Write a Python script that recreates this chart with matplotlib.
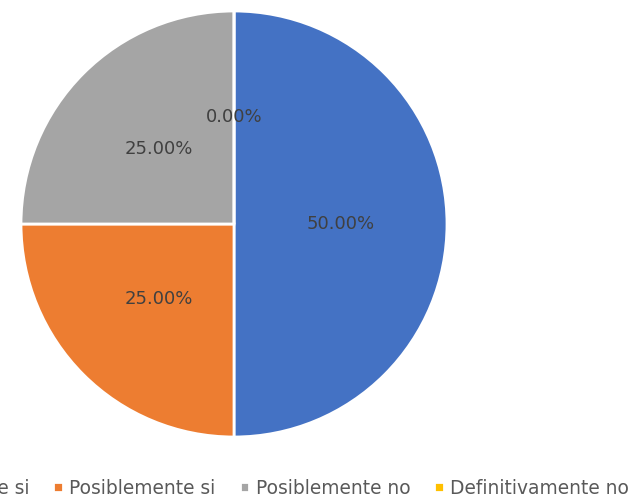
import matplotlib.pyplot as plt

# Respuestas (porcentaje)
labels = ['Definitivamente si', 'Posiblemente si', 'Posiblemente no', 'Definitivamente no']
values = [50.0, 25.0, 25.0, 0.0]
colors = ['#4472C4', '#ED7D31', '#A5A5A5', '#FFC000']

fig = plt.figure(figsize=(6.4, 4.99), dpi=100)
ax = fig.add_axes([21 / 640, 62 / 499, 426 / 640, 426 / 499])

wedges, texts, autotexts = ax.pie(
    values, colors=colors, startangle=90, counterclock=False,
    autopct='%1.2f%%', pctdistance=0.5,
    wedgeprops=dict(edgecolor='white', linewidth=2),
    textprops=dict(color='#404040', fontsize=13),
)
ax.set_xlim(-1, 1)
ax.set_ylim(-1, 1)
ax.set_aspect('equal')

fig.legend(wedges, labels, loc='center', bbox_to_anchor=(236 / 640, 1 - 488 / 499),
           ncol=4, frameon=False, fontsize=13.4, labelcolor='#595959',
           handlelength=0.5, handleheight=0.5, handletextpad=0.35, columnspacing=1.3)

fig.savefig('out.png', dpi=100)
